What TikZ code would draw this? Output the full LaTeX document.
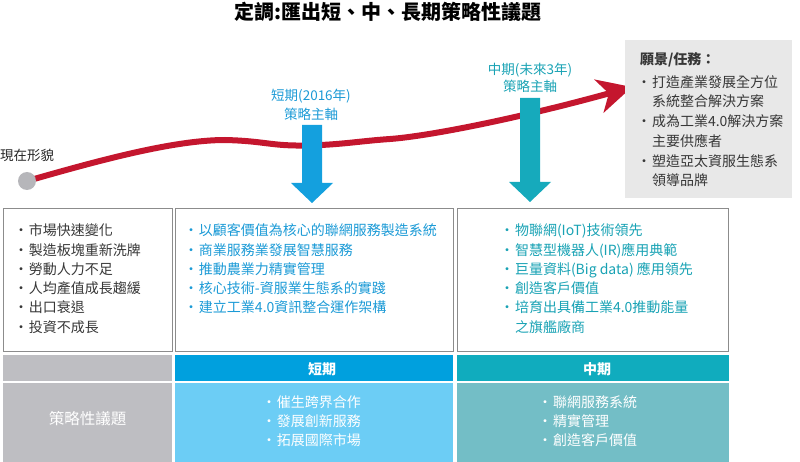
\documentclass[tikz,border=0pt]{standalone}
\usepackage{fontspec}
\setmainfont{Noto Sans CJK TC}
\usetikzlibrary{arrows.meta,backgrounds}
\definecolor{redc}{RGB}{196,22,46}
\definecolor{txtgray}{RGB}{55,55,55}
\definecolor{bluetxt}{RGB}{27,154,214}
\definecolor{tealtxt}{RGB}{24,162,180}
\definecolor{bluearr}{RGB}{20,160,222}
\definecolor{tealarr}{RGB}{22,170,188}
\definecolor{visbg}{RGB}{232,232,232}
\definecolor{dotgray}{RGB}{182,182,186}
\definecolor{cellgray}{RGB}{190,190,194}
\definecolor{hdrblue}{RGB}{0,160,222}
\definecolor{bodyblue}{RGB}{108,205,245}
\definecolor{hdrteal}{RGB}{16,172,190}
\definecolor{bodyteal}{RGB}{115,190,198}
\definecolor{boxline}{RGB}{140,140,140}
\newcommand{\bu}{\makebox[9pt][l]{\hspace*{-6pt}·}}
\begin{document}
\begin{tikzpicture}[x=1pt,y=-1pt,
  every node/.style={inner sep=0pt, outer sep=0pt},
  txt/.style={anchor=base west, font=\fontsize{14}{17}\selectfont},
  lbl/.style={anchor=base, font=\fontsize{13.5}{16}\selectfont},
  frame/.style={draw=boxline, line width=0.8pt, anchor=north west, minimum height=143pt},
  cellbox/.style={anchor=north west}
]
\useasboundingbox (0,0) rectangle (800,462);

% title
\node[anchor=base, font=\bfseries\fontsize{20}{24}\selectfont] (title) at (388,19.5) {定調:匯出短、中、長期策略性議題};

% vision box
\node[cellbox, fill=visbg, minimum width=167pt, minimum height=158pt] (vision) at (625,40) {};
\node[txt, font=\bfseries\fontsize{14}{17}\selectfont, text=txtgray] (vhead) at (640,64.3) {願景/任務：};
\node[txt, text=txtgray] (v1) at (643,87.3) {\bu 打造產業發展全方位};
\node[txt, text=txtgray] (v2) at (643,107.0) {\hspace*{9pt}系統整合解決方案};
\node[txt, text=txtgray] (v3) at (643,126.7) {\bu 成為工業4.0解決方案};
\node[txt, text=txtgray] (v4) at (643,146.4) {\hspace*{9pt}主要供應者};
\node[txt, text=txtgray] (v5) at (643,166.1) {\bu 塑造亞太資服生態系};
\node[txt, text=txtgray] (v6) at (643,185.8) {\hspace*{9pt}領導品牌};

% current state dot and red curve
\node[circle, fill=dotgray, minimum size=18pt] (now) at (27,181) {};
\coordinate (tip) at (632,87);
\begin{scope}[on background layer]
\draw[redc, line width=6pt, -{Stealth[length=34pt,width=34pt,inset=10pt]}]
  (now.center) .. controls (87,164) and (170,140) .. (225,140)
  .. controls (265,141) and (270,146) .. (305,145.5)
  .. controls (340,145) and (360,141) .. (390,139)
  .. controls (430,136) and (520,118) .. (tip);
\end{scope}
\node[anchor=base west, font=\fontsize{13.5}{16}\selectfont, text=black!85] (nowlbl) at (0,161) {現在形貌};

% short-term arrow
\node[lbl, text=bluetxt] (s1) at (311,101) {短期(2016年)};
\node[lbl, text=bluetxt] (s2) at (311,119.3) {策略主軸};
\fill[bluearr] (302,125) -- (322,125) -- (322,183) -- (333,183) -- (312,203) -- (291,183) -- (302,183) -- cycle;

% mid-term arrow
\node[lbl, text=tealtxt] (m1) at (530,74.3) {中期(未來3年)};
\node[lbl, text=tealtxt] (m2) at (530,92) {策略主軸};
\fill[tealarr] (520,98) -- (540,98) -- (540,182) -- (551,182) -- (530,202) -- (509,182) -- (520,182) -- cycle;

% three boxes
\node[frame, minimum width=169pt] (box1) at (3,208) {};
\node[frame, minimum width=278pt] (box2) at (175,208) {};
\node[frame, minimum width=271pt] (box3) at (457,208) {};

\node[txt, text=txtgray] (a1) at (20,236.0) {\bu 市場快速變化};
\node[txt, text=txtgray] (a2) at (20,255.2) {\bu 製造板塊重新洗牌};
\node[txt, text=txtgray] (a3) at (20,274.4) {\bu 勞動人力不足};
\node[txt, text=txtgray] (a4) at (20,293.6) {\bu 人均產值成長趨緩};
\node[txt, text=txtgray] (a5) at (20,312.8) {\bu 出口衰退};
\node[txt, text=txtgray] (a6) at (20,332.0) {\bu 投資不成長};

\node[txt, text=bluetxt] (b1) at (190,236.0) {\bu 以顧客價值為核心的聯網服務製造系統};
\node[txt, text=bluetxt] (b2) at (190,255.2) {\bu 商業服務業發展智慧服務};
\node[txt, text=bluetxt] (b3) at (190,274.4) {\bu 推動農業力精實管理};
\node[txt, text=bluetxt] (b4) at (190,293.6) {\bu 核心技術-資服業生態系的實踐};
\node[txt, text=bluetxt] (b5) at (190,312.8) {\bu 建立工業4.0資訊整合運作架構};

\node[txt, text=tealtxt] (c1) at (506,236.0) {\bu 物聯網(IoT)技術領先};
\node[txt, text=tealtxt] (c2) at (506,255.2) {\bu 智慧型機器人(IR)應用典範};
\node[txt, text=tealtxt] (c3) at (506,274.4) {\bu 巨量資料(Big data) 應用領先};
\node[txt, text=tealtxt] (c4) at (506,293.6) {\bu 創造客戶價值};
\node[txt, text=tealtxt] (c5) at (506,312.8) {\bu 培育出具備工業4.0推動能量};
\node[txt, text=tealtxt] (c6) at (506,332.0) {\hspace*{9pt}之旗艦廠商};

% bottom table
\node[cellbox, fill=cellgray, minimum width=169pt, minimum height=26pt] (gh) at (3,355) {};
\node[cellbox, fill=hdrblue, minimum width=278pt, minimum height=26pt] (bh) at (175,355) {};
\node[cellbox, fill=hdrteal, minimum width=272pt, minimum height=26pt] (th) at (457,355) {};
\node[cellbox, fill=cellgray, minimum width=169pt, minimum height=79pt] (gb) at (3,383) {};
\node[cellbox, fill=bodyblue, minimum width=278pt, minimum height=79pt] (bb) at (175,383) {};
\node[cellbox, fill=bodyteal, minimum width=272pt, minimum height=79pt] (tb) at (457,383) {};

\node[anchor=base, text=white, font=\bfseries\fontsize{14}{17}\selectfont] (bht) at (322,374.3) {短期};
\node[anchor=base, text=white, font=\bfseries\fontsize{14}{17}\selectfont] (tht) at (597,374.3) {中期};
\node[anchor=base, text=white, font=\fontsize{15.5}{18}\selectfont] (gbt) at (87.5,424.8) {策略性議題};

\node[txt, text=white] (d1) at (268,407.3) {\bu 催生跨界合作};
\node[txt, text=white] (d2) at (268,426.3) {\bu 發展創新服務};
\node[txt, text=white] (d3) at (268,445.3) {\bu 拓展國際市場};

\node[txt, text=white] (e1) at (544,407.3) {\bu 聯網服務系統};
\node[txt, text=white] (e2) at (544,426.3) {\bu 精實管理};
\node[txt, text=white] (e3) at (544,445.3) {\bu 創造客戶價值};
\end{tikzpicture}
\end{document}
